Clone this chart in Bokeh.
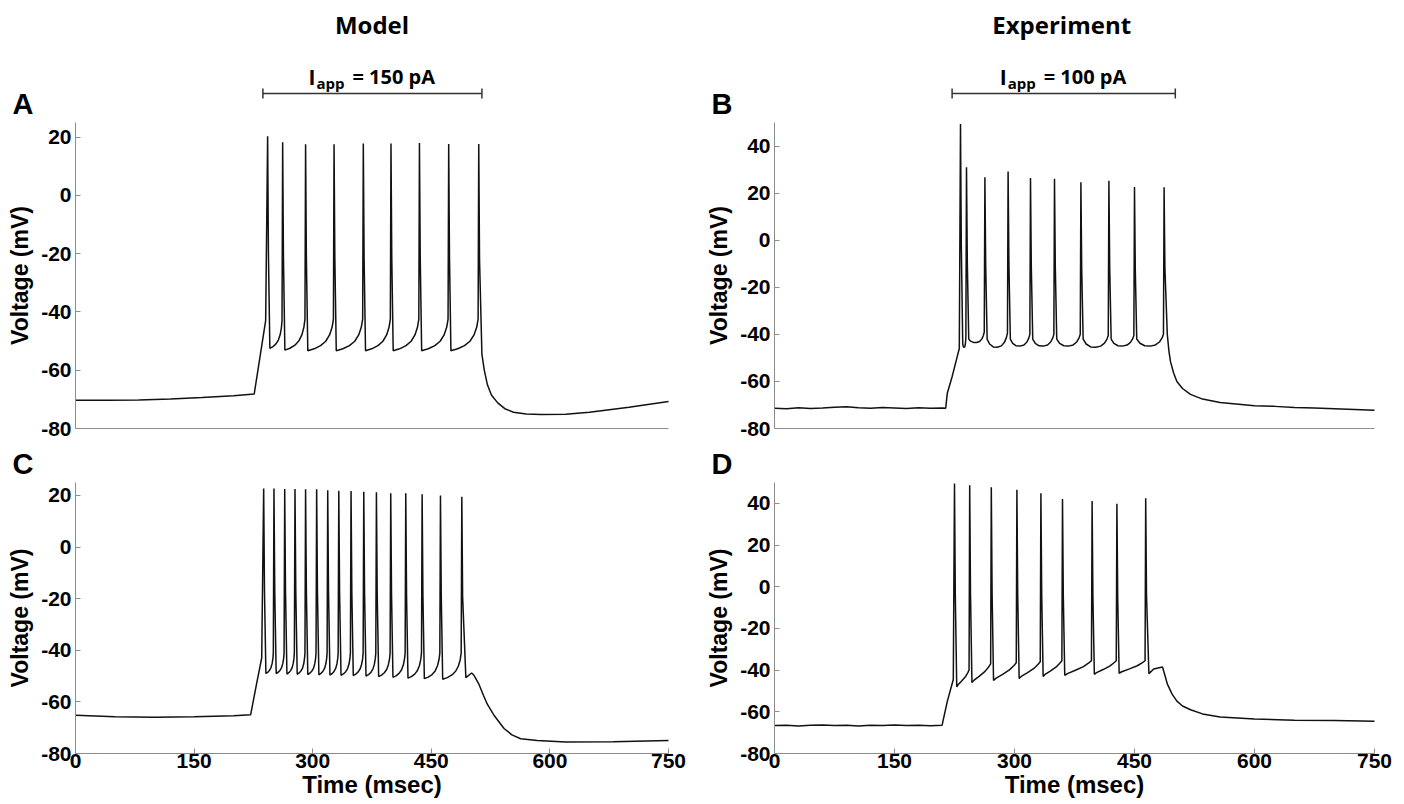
from bokeh.plotting import figure
from bokeh.layouts import column, row
from bokeh.models import Range1d, FixedTicker
from bokeh.core.properties import value
from bokeh.embed import file_html
from bokeh.resources import INLINE

# ---------------- data ----------------
x_ticks = [0, 150, 300, 450, 600, 750]
model_y_ticks = [-80, -60, -40, -20, 0, 20]
exp_y_ticks = [-80, -60, -40, -20, 0, 20, 40]
model_y_range = [-80, 25]
exp_y_range = [-80, 50]
time_range = [0, 750]

model_stim = [237, 514]
exp_stim = [222, 501]
model_stim_text = "= 150 pA"
exp_stim_text = "= 100 pA"
col_titles = ["Model", "Experiment"]

# Panel A (model, 150 pA)
a_base_t = [0, 40, 80, 120, 160, 200, 226]
a_base_v = [-70.3, -70.3, -70.2, -69.9, -69.4, -68.8, -68.2]
a_rise_t = [233, 240.5]
a_rise_v = [-56, -43]
a_spike_t = [243, 262, 291, 327, 364, 399, 435, 472, 510]
a_spike_pk = [20.3, 18.2, 17.5, 17.5, 17.8, 17.8, 18.0, 17.6, 17.6]
a_trough = [-52.5, -53.1, -53.3, -53.3, -53.3, -53.3, -53.3, -53.3]
a_pre = [-43, -42.5, -42.5, -42.5, -42.5, -42.5, -42.5, -42.5]
a_post_t = [514, 517, 521, 526, 534, 543, 554, 570, 589, 620, 650, 700, 750]
a_post_v = [-54.5, -60.0, -65.0, -68.5, -71.2, -73.2, -74.4, -75.0, -75.2, -75.1,
            -74.4, -72.7, -70.7]

# Panel C (model, larger drive)
c_base_t = [0, 50, 100, 150, 200, 221.5]
c_base_v = [-65.2, -65.8, -66.0, -65.8, -65.4, -65.0]
c_rise_t = [229, 235.5]
c_rise_v = [-53, -43]
c_spike_t = [238, 251, 264.6, 277.6, 291, 305, 319, 333, 348.5, 364.6, 380.6,
             398.7, 417.7, 438.4, 461.6, 488.6]
c_spike_pk = [22.7, 22.7, 22.5, 22.5, 22.4, 22.4, 22.0, 21.8, 21.7, 21.4, 21.2,
              20.8, 20.8, 20.4, 20.0, 19.5]
c_trough = [-49.0, -49.0, -49.2, -49.3, -49.4, -49.5, -49.6, -49.7, -49.8, -50.0,
            -50.2, -50.5, -50.8, -51.0, -51.2]
c_pre = [-41, -41, -41, -41, -41, -41, -41, -41, -41, -41, -41, -41, -41, -41, -41]
c_post_t = [493.7, 501, 504, 510, 516, 521, 530, 542, 552, 563, 584, 620, 680, 750]
c_post_v = [-50.6, -48.8, -49.7, -53.0, -57.5, -61.0, -65.5, -70.3, -72.8, -74.3,
            -75.0, -75.5, -75.4, -75.0]

# Panel B (experiment, 100 pA)
b_base_t = [0, 15, 30, 45, 60, 75, 90, 105, 120, 135, 150, 165, 180, 195, 210, 214]
b_base_v = [-71.4, -71.6, -71.2, -71.5, -71.3, -71.0, -70.8, -71.2, -71.4, -71.1,
            -71.3, -71.5, -71.2, -71.4, -71.3, -71.4]
b_rise_t = [216, 222, 228, 231]
b_rise_v = [-65, -58, -50, -46]
b_spike_t = [232.5, 240, 263, 292, 320, 350, 383, 418, 450, 487]
b_spike_pk = [49.4, 31.0, 26.7, 29.2, 26.4, 26.1, 24.6, 25.2, 22.6, 22.5]
b_after = [-44, -42, -42, -42, -42, -42, -42, -42, -42]
b_min = [-45.5, -43.5, -45.5, -45.0, -45.0, -45.0, -45.5, -45.0, -45.0]
b_pre = [-41, -39, -39.5, -40, -40, -40, -40.5, -40.5, -40]
b_post_t = [491, 493, 495, 499, 503, 510, 520, 535, 557, 600, 625, 650, 675, 700,
            725, 750]
b_post_v = [-40, -47, -51.6, -56.5, -60, -63, -65.5, -67.5, -69, -70.3, -70.6, -71.1,
            -71.3, -71.6, -71.9, -72.2]

# Panel D (experiment, larger drive)
d_base_t = [0, 15, 30, 45, 60, 75, 90, 105, 120, 135, 150, 165, 180, 195, 209.5]
d_base_v = [-66.6, -66.4, -66.8, -66.5, -66.3, -66.6, -66.5, -66.8, -66.4, -66.6,
            -66.3, -66.6, -66.5, -66.7, -66.4]
d_rise_t = [216, 223.5]
d_rise_v = [-55, -44.5]
d_spike_t = [225, 244, 271, 303, 333, 360, 397, 428, 464]
d_spike_pk = [49.5, 48.7, 47.7, 46.5, 44.9, 42.1, 41.1, 39.8, 42.5]
d_trough = [-48.0, -46.0, -45.0, -44.0, -43.0, -42.5, -42.0, -41.5]
d_pre = [-40.0, -37.0, -36.5, -36.0, -35.5, -35.5, -35.5, -35.5]
d_post_t = [468, 474, 485, 488, 491, 497, 503, 510, 520, 535, 557, 600, 650, 700, 750]
d_post_v = [-41.7, -39.5, -38.5, -42.5, -46.6, -51.5, -54.9, -57.2, -59.0, -61.0,
            -62.5, -63.5, -64.0, -64.2, -64.5]

# ---------------- trace assembly (shape templates between read-off points) ----------------
RAMP_T = [0.0, 0.25, 0.5, 0.7, 0.85, 0.95, 1.0]
RAMP_V = [0.0, 0.06, 0.16, 0.30, 0.50, 0.75, 1.0]
LIN_T = [0.0, 0.1, 0.4, 0.7, 0.9, 1.0]
LIN_V = [0.0, 0.12, 0.35, 0.6, 0.85, 1.0]
U_T = [0.0, 0.12, 0.3, 0.5, 0.7, 0.85, 0.95, 1.0]


def assemble(base_t, base_v, rise_t, rise_v, spk_t, spk_pk, after, pre, post_t, post_v,
             kind, mins=None):
    t = list(base_t) + list(rise_t)
    v = list(base_v) + list(rise_v)
    n = len(spk_t)
    for i in range(n):
        ts = spk_t[i]
        t.append(ts)
        v.append(spk_pk[i])
        if i == n - 1:
            break
        a, b = after[i], pre[i]
        # falling phase of the spike
        t.append(ts + 1.0)
        v.append(spk_pk[i] - 0.55 * (spk_pk[i] - a))
        t0 = ts + 2.8
        t1 = spk_t[i + 1] - 0.8
        if kind == "model":
            for ft, fv in zip(RAMP_T, RAMP_V):
                t.append(t0 + ft * (t1 - t0)); v.append(a + fv * (b - a))
        elif kind == "lin":
            for ft, fv in zip(LIN_T, LIN_V):
                t.append(t0 + ft * (t1 - t0)); v.append(a + fv * (b - a))
        else:
            m = mins[i]
            vals = [a, m + 0.4 * (a - m), m + 0.05 * (a - m), m,
                    m + 0.1 * (b - m), m + 0.35 * (b - m), m + 0.7 * (b - m), b]
            for ft, vv in zip(U_T, vals):
                t.append(t0 + ft * (t1 - t0)); v.append(vv)
    t.append(spk_t[-1] + 1.0)
    v.append(spk_pk[-1] - 0.55 * (spk_pk[-1] - post_v[0]))
    t += list(post_t)
    v += list(post_v)
    return t, v


traces = {
    "A": assemble(a_base_t, a_base_v, a_rise_t, a_rise_v, a_spike_t, a_spike_pk,
                  a_trough, a_pre, a_post_t, a_post_v, "model"),
    "C": assemble(c_base_t, c_base_v, c_rise_t, c_rise_v, c_spike_t, c_spike_pk,
                  c_trough, c_pre, c_post_t, c_post_v, "model"),
    "B": assemble(b_base_t, b_base_v, b_rise_t, b_rise_v, b_spike_t, b_spike_pk,
                  b_after, b_pre, b_post_t, b_post_v, "u", b_min),
    "D": assemble(d_base_t, d_base_v, d_rise_t, d_rise_v, d_spike_t, d_spike_pk,
                  d_trough, d_pre, d_post_t, d_post_v, "lin"),
}

# ---------------- layout (pixel geometry of each canvas) ----------------
AX_GREY = "#8c8c8c"
LBL_FONT = "Liberation Sans"
HDR_FONT = "Open Sans"

# horizontal: (canvas width, axis left px, axis right px)
LEFT_COL = (688, 75, 668)
RIGHT_COL = (716, 86, 686)
# vertical: (canvas height, axis top px, axis bottom px)
TOP_ROW = (444, 122, 428)
BOT_ROW = (360, 38, 309)


def stretch(lo, hi, size, p0, p1, flip=False):
    """Data range so that lo..hi occupy pixels p0..p1 of a canvas of `size`."""
    s = (hi - lo) / float(p1 - p0)
    if flip:   # vertical: pixel 0 is the top
        return Range1d(lo - (size - p1) * s, hi + p0 * s), s
    return Range1d(lo - p0 * s, hi + (size - p1) * s), s


class Panel:
    pass


def make_panel(letter, yr, yticks, col, rw, bottom_row):
    W, xl, xr_ = col
    H, yt, yb = rw
    xrange_, sx = stretch(time_range[0], time_range[1], W, xl, xr_)
    yrange_, sy = stretch(yr[0], yr[1], H, yt, yb, flip=True)
    p = figure(x_range=xrange_, y_range=yrange_, width=W, height=H,
               min_border=0, min_border_left=0, min_border_right=0,
               min_border_top=0, min_border_bottom=0,
               toolbar_location=None, output_backend="svg")
    p.background_fill_color = "white"
    p.border_fill_color = "white"
    p.outline_line_color = None
    p.grid.visible = False
    for ax in (p.xaxis[0], p.yaxis[0]):
        ax.axis_line_color = AX_GREY
        ax.axis_line_width = 1
        ax.major_tick_line_color = AX_GREY
        ax.major_tick_in = 5
        ax.major_tick_out = 0
        ax.minor_tick_line_color = None
        ax.major_label_text_font = LBL_FONT
        ax.major_label_text_font_style = "bold"
        ax.major_label_text_font_size = "21px"
        ax.major_label_text_color = "black"
        ax.axis_label_text_font = LBL_FONT
        ax.axis_label_text_font_style = "bold"
        ax.axis_label_text_color = "black"
    p.yaxis[0].fixed_location = time_range[0]
    p.yaxis[0].bounds = (yr[0], yr[1])
    p.yaxis[0].ticker = FixedTicker(ticks=yticks)
    p.yaxis[0].major_label_overrides = {tk: str(tk) for tk in yticks}
    p.yaxis[0].axis_label = "Voltage (mV)"
    p.yaxis[0].axis_label_text_font_size = "23px"
    p.yaxis[0].major_label_standoff = 4
    p.yaxis[0].axis_label_standoff = 5
    p.xaxis[0].fixed_location = yr[0]
    p.xaxis[0].bounds = (time_range[0], time_range[1])
    if bottom_row:
        p.xaxis[0].ticker = FixedTicker(ticks=x_ticks)
        p.xaxis[0].major_label_overrides = {tk: str(tk) for tk in x_ticks}
        p.xaxis[0].axis_label = "Time (msec)"
        p.xaxis[0].axis_label_text_font_size = "24px"
        p.xaxis[0].major_label_standoff = 0
        p.xaxis[0].axis_label_standoff = 0
    else:
        p.xaxis[0].ticker = FixedTicker(ticks=[])
        p.xaxis[0].major_label_text_font_size = "0px"
    t, v = traces[letter]
    p.line(t, v, line_color="#111111", line_width=1.5)

    def px(xp):
        return xrange_.start + xp * sx

    def py(yp):
        return yrange_.end - yp * sy

    # panel letter, left of the axis label, above the axis top
    p.text(x=[px(12 if col is LEFT_COL else 23)], y=[py(yt - 19)], text=[letter],
           text_font=value(LBL_FONT), text_font_style="bold", text_font_size="29px",
           text_color="black", text_align="left", text_baseline="middle")
    pnl = Panel()
    pnl.fig, pnl.px, pnl.py = p, px, py
    return pnl


def add_header(pnl, title, title_x, stim, stim_text):
    p, px, py = pnl.fig, pnl.px, pnl.py
    p.text(x=[title_x], y=[py(24)], text=[title], text_font=value(HDR_FONT),
           text_font_style="bold", text_font_size="24px", text_color="black",
           text_align="center", text_baseline="middle")
    cx = (stim[0] + stim[1]) / 2.0
    p.text(x=[cx], y=[py(76)], text=["I"], x_offset=-64, text_font=value(HDR_FONT),
           text_font_style="bold", text_font_size="21px", text_color="black",
           text_align="left", text_baseline="middle")
    p.text(x=[cx], y=[py(82)], text=["app"], x_offset=-56, text_font=value(HDR_FONT),
           text_font_style="bold", text_font_size="15px", text_color="black",
           text_align="left", text_baseline="middle")
    p.text(x=[cx], y=[py(76)], text=[stim_text], x_offset=-20, text_font=value(HDR_FONT),
           text_font_style="bold", text_font_size="20px", text_color="black",
           text_align="left", text_baseline="middle")
    yb, c0, c1 = py(93), py(88), py(98)
    p.segment(x0=[stim[0], stim[0], stim[1]], y0=[yb, c0, c0],
              x1=[stim[1], stim[0], stim[1]], y1=[yb, c1, c1],
              line_color="#333333", line_width=1.5)


pA = make_panel("A", model_y_range, model_y_ticks, LEFT_COL, TOP_ROW, False)
pB = make_panel("B", exp_y_range, exp_y_ticks, RIGHT_COL, TOP_ROW, False)
pC = make_panel("C", model_y_range, model_y_ticks, LEFT_COL, BOT_ROW, True)
pD = make_panel("D", exp_y_range, exp_y_ticks, RIGHT_COL, BOT_ROW, True)
add_header(pA, col_titles[0], 375, model_stim, model_stim_text)
add_header(pB, col_titles[1], 359, exp_stim, exp_stim_text)

layout = column(row(pA.fig, pB.fig, spacing=0), row(pC.fig, pD.fig, spacing=0), spacing=0)
open("out.html", "w").write(file_html(layout, INLINE))
